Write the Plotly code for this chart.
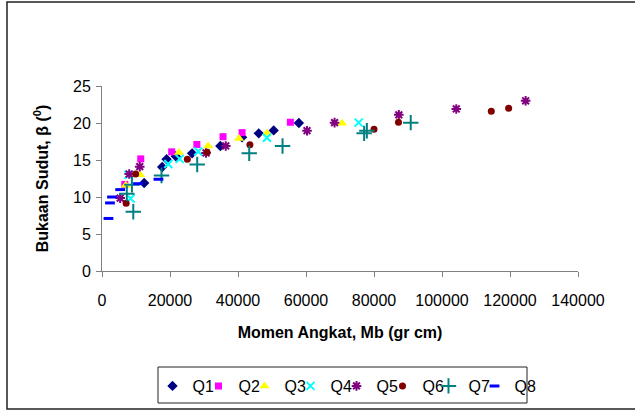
import plotly.graph_objects as go

# ---- data (x in gr cm, y in degrees) ----
q1_x = [12400, 17700, 19000, 21700, 26500, 34800, 41200, 46100, 50500, 57900]
q1_y = [11.9, 14.05, 15.1, 15.5, 15.9, 16.9, 18.07, 18.6, 19.0, 20.0]

q2_x = [6700, 11400, 20500, 27900, 35600, 41200, 55400]
q2_y = [11.7, 15.15, 16.1, 17.1, 18.15, 18.7, 20.1]

q3_x = [7000, 11200, 22650, 31200, 40300, 48500, 70600]
q3_y = [11.6, 13.0, 16.0, 16.9, 17.9, 18.6, 19.95]

q4_x = [7800, 8400, 19500, 22850, 28300, 48500, 75500]
q4_y = [13.0, 9.8, 14.45, 15.15, 16.15, 18.0, 20.05]

q5_x = [5350, 8000, 11100, 30600, 36400, 60300, 68400, 87300, 104200, 124600]
q5_y = [9.85, 13.1, 14.1, 15.95, 16.9, 18.96, 20.05, 21.1, 21.9, 23.0]

q6_x = [7100, 9900, 25100, 30900, 43500, 80000, 87200, 114500, 119600]
q6_y = [9.15, 13.1, 15.1, 16.05, 17.05, 19.15, 20.1, 21.6, 22.0]

q7_x = [7300, 8800, 9200, 17500, 28000, 43300, 53100, 77100, 77900, 90800]
q7_y = [10.45, 11.65, 8.0, 12.9, 14.4, 15.9, 16.9, 18.6, 18.95, 20.05]

q8_x = [1900, 2350, 2950, 5350, 10600, 16600]
q8_y = [7.1, 9.2, 10.0, 11.0, 11.8, 12.4]

series_names = ["Q1", "Q2", "Q3", "Q4", "Q5", "Q6", "Q7", "Q8"]
x_ticks = [0, 20000, 40000, 60000, 80000, 100000, 120000, 140000]
y_ticks = [0, 5, 10, 15, 20, 25]

xs = [q1_x, q2_x, q3_x, q4_x, q5_x, q6_x, q7_x, q8_x]
ys = [q1_y, q2_y, q3_y, q4_y, q5_y, q6_y, q7_y, q8_y]

styles = [
    dict(symbol="diamond", color="#000080", size=8, line=dict(width=0)),
    dict(symbol="square", color="#FF00FF", size=7, line=dict(width=0)),
    dict(symbol="triangle-up", color="#FFFF00", size=9, line=dict(width=0)),
    dict(symbol="x-thin", color="#00FFFF", size=8, line=dict(width=2, color="#00FFFF")),
    dict(symbol="asterisk", color="#800080", size=8, line=dict(width=2, color="#800080")),
    dict(symbol="circle", color="#800000", size=7, line=dict(width=0)),
    dict(symbol="cross-thin", color="#008080", size=11, line=dict(width=2, color="#008080")),
    dict(symbol="line-ew", color="#0000FF", size=7, line=dict(width=3, color="#0000FF")),
]

FONT = "Liberation Sans, Arial, sans-serif"

fig = go.Figure()
n = len(series_names)
for i, (name, x, y, st) in enumerate(zip(series_names, xs, ys, styles)):
    kw = {}
    if i < n - 1:
        kw["legendwidth"] = 1
    fig.add_trace(go.Scatter(x=x, y=y, mode="markers", name=name, marker=st, **kw))

W, H = 635, 410
L, R, T, B = 102, 57, 86, 139
pw, ph = W - L - R, H - T - B

def px_x(p):
    return (p - L) / pw

def px_y(p):
    return (H - B - p) / ph

fig.update_layout(
    width=W, height=H,
    margin=dict(l=L, r=R, t=T, b=B, autoexpand=False),
    paper_bgcolor="white", plot_bgcolor="white",
    font=dict(family=FONT, size=16, color="black"),
    showlegend=True,
    legend=dict(
        orientation="h",
        x=px_x(152.5), xanchor="left",
        y=px_y(386), yanchor="middle",
        borderwidth=0,
        bgcolor="rgba(0,0,0,0)",
        font=dict(family=FONT, size=16, color="black"),
        itemwidth=30,
    ),
    xaxis=dict(
        range=[0, 140000], tickvals=x_ticks, ticktext=[str(v) for v in x_ticks],
        showgrid=False, zeroline=False, showline=True, linecolor="#808080", linewidth=1,
        ticks="outside", ticklen=5, tickcolor="#808080", automargin=False,
        ticklabelstandoff=10,
        tickfont=dict(family=FONT, size=16, color="black"),
        title=dict(text="<b>Momen Angkat, Mb (gr cm)</b>", font=dict(family=FONT, size=16, color="black"), standoff=18),
    ),
    yaxis=dict(
        range=[0, 25], tickvals=y_ticks,
        showgrid=False, zeroline=False, showline=True, linecolor="#808080", linewidth=1,
        ticks="outside", ticklen=5, tickcolor="#808080", automargin=False,
        ticklabelstandoff=2,
        tickfont=dict(family=FONT, size=16, color="black"),
        title=dict(text="<b>Bukaan Sudut, β (<sup>0</sup>)</b>", font=dict(family=FONT, size=16, color="black"), standoff=20),
    ),
    shapes=[
        dict(type="rect", xref="paper", yref="paper",
             x0=px_x(7), x1=px_x(660), y0=px_y(409), y1=px_y(2),
             line=dict(color="#222222", width=1.5), layer="below"),
        dict(type="rect", xref="paper", yref="paper",
             x0=px_x(158), x1=px_x(527), y0=px_y(403), y1=px_y(367),
             line=dict(color="#222222", width=1), fillcolor="rgba(0,0,0,0)", layer="above"),
    ],
)

fig.write_html("out.html")
